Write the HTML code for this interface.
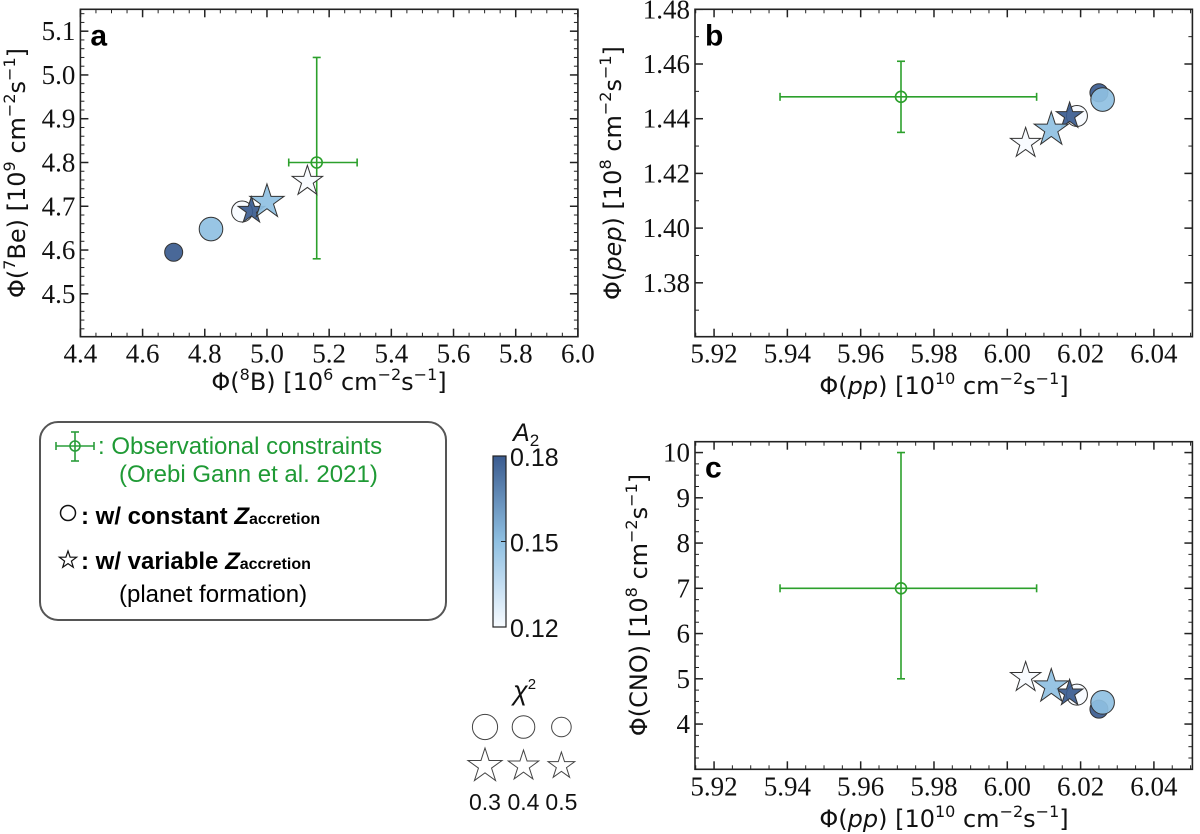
<!DOCTYPE html>
<html><head><meta charset="utf-8"><style>
html,body{margin:0;padding:0;background:#fff;}
svg{display:block;}
.ti{font-family:"DejaVu Sans","Liberation Sans",sans-serif;font-size:24px;fill:#111;}
.lg{font-family:"Liberation Sans","DejaVu Sans",sans-serif;font-size:24px;}
</style></head><body>
<svg id="fig" width="1200" height="834" viewBox="0 0 1200 834" xmlns="http://www.w3.org/2000/svg">
<g id="layer"></g>
</svg>
<script>
// ---- data ----
const circA_x=[4.70,4.82,4.92];
const circA_y=[4.595,4.648,4.688];
const starA_x=[4.95,5.00,5.13];
const starA_y=[4.690,4.710,4.757];
const circB_x=[6.025,6.026,6.019];
const circB_y=[1.4495,1.447,1.441];
const starB_x=[6.017,6.012,6.005];
const starB_y=[1.441,1.436,1.431];
const circC_x=[6.025,6.026,6.019];
const circC_y=[4.33,4.48,4.65];
const starC_x=[6.017,6.012,6.005];
const starC_y=[4.68,4.83,5.03];
const circA2=[0.18,0.15,0.12];
const circChi=[0.5,0.3,0.4];
const starA2=[0.18,0.15,0.12];
const starChi=[0.5,0.3,0.4];
const obsA=[5.16,4.80,5.07,5.29,4.58,5.04];
const obsB=[5.971,1.448,5.938,6.008,1.435,1.461];
const obsC=[5.971,7.0,5.938,6.008,5.0,10.0];
const xticksA=[4.4,4.6,4.8,5.0,5.2,5.4,5.6,5.8,6.0];
const yticksA=[4.5,4.6,4.7,4.8,4.9,5.0,5.1];
const xticksB=[5.92,5.94,5.96,5.98,6.00,6.02,6.04];
const yticksB=[1.38,1.40,1.42,1.44,1.46,1.48];
const yticksC=[4,5,6,7,8,9,10];
const chiLegend=[0.3,0.4,0.5];
const cbarTicks=[0.12,0.15,0.18];

const NS="http://www.w3.org/2000/svg";
const layer=document.getElementById('layer');
const SERIF='Liberation Serif, serif';
function mk(tag,attrs,parent){const e=document.createElementNS(NS,tag);for(const k in attrs)e.setAttribute(k,attrs[k]);(parent||layer).appendChild(e);return e;}
function lerp(a,b,t){return a+(b-a)*t;}
function cmap(v){const t=Math.max(0,Math.min(1,(v-0.12)/0.06));
 const c0=[247,251,255],c1=[143,192,226],c2=[58,91,143];let c;
 if(t<0.5){const u=t/0.5;c=c0.map((x,i)=>lerp(x,c1[i],u));}else{const u=(t-0.5)/0.5;c=c1.map((x,i)=>lerp(x,c2[i],u));}
 return 'rgb('+c.map(Math.round).join(',')+')';}
function circR(chi){return chi<=0.3?11.8:(chi<=0.4?10.5:9.0);}
function starR(chi){return chi<=0.3?18:(chi<=0.4?16:14);}
function starPath(cx,cy,R){let p='';for(let i=0;i<10;i++){const r=i%2?R*0.382:R;const a=-Math.PI/2+i*Math.PI/5;p+=(i?'L':'M')+(cx+r*Math.cos(a)).toFixed(2)+' '+(cy+r*Math.sin(a)).toFixed(2);}return p+'Z';}

function panel(cfg){
 const g=mk('g',{});
 
 
 const X=v=>cfg.L+(v-cfg.x0)/(cfg.x1-cfg.x0)*(cfg.R-cfg.L);
 const Y=v=>cfg.B-(v-cfg.y0)/(cfg.y1-cfg.y0)*(cfg.B-cfg.T);
 for(let v=Math.ceil(cfg.x0/cfg.xm-1e-6)*cfg.xm;v<=cfg.x1+1e-9;v+=cfg.xm){const x=X(v);mk('line',{x1:x,x2:x,y1:cfg.B,y2:cfg.B-4,stroke:'#222','stroke-width':1},g);mk('line',{x1:x,x2:x,y1:cfg.T,y2:cfg.T+4,stroke:'#222','stroke-width':1},g);}
 for(let v=Math.ceil(cfg.y0/cfg.ym-1e-6)*cfg.ym;v<=cfg.y1+1e-9;v+=cfg.ym){const y=Y(v);mk('line',{x1:cfg.L,x2:cfg.L+4,y1:y,y2:y,stroke:'#222','stroke-width':1},g);mk('line',{x1:cfg.R,x2:cfg.R-4,y1:y,y2:y,stroke:'#222','stroke-width':1},g);}
 cfg.xt.forEach(v=>{const x=X(v);mk('line',{x1:x,x2:x,y1:cfg.B,y2:cfg.B-8,stroke:'#222','stroke-width':1.5},g);mk('line',{x1:x,x2:x,y1:cfg.T,y2:cfg.T+8,stroke:'#222','stroke-width':1.5},g);
  const t=mk('text',{x:x,y:cfg.B+26,'text-anchor':'middle','font-family':SERIF,'font-size':'27px',fill:'#111'},g);t.textContent=v.toFixed(cfg.xd);
  
  });
 cfg.yt.forEach(v=>{const y=Y(v);mk('line',{x1:cfg.L,x2:cfg.L+8,y1:y,y2:y,stroke:'#222','stroke-width':1.5},g);mk('line',{x1:cfg.R,x2:cfg.R-8,y1:y,y2:y,stroke:'#222','stroke-width':1.5},g);
  const t=mk('text',{x:cfg.L-5,y:y+9,'text-anchor':'end','font-family':SERIF,'font-size':'27px',fill:'#111'},g);t.textContent=v.toFixed(cfg.yd);
  
  });
 mk('rect',{x:cfg.L,y:cfg.T,width:cfg.R-cfg.L,height:cfg.B-cfg.T,fill:'none',stroke:'#222','stroke-width':1.6},g);
 const lb=mk('text',{x:cfg.L+10,y:cfg.T+36,'font-family':'Liberation Sans, sans-serif','font-weight':'bold','font-size':'30px',fill:'#000'},g);lb.textContent=cfg.label;
 
 
 const o=cfg.obs,gc='#2ca02c';
 const eg=mk('g',{stroke:gc,'stroke-width':1.6,fill:'none'},g);
 
 
 mk('line',{x1:X(o[2]),x2:X(o[3]),y1:Y(o[1]),y2:Y(o[1])},eg);
 mk('line',{x1:X(o[0]),x2:X(o[0]),y1:Y(o[4]),y2:Y(o[5])},eg);
 mk('line',{x1:X(o[2]),x2:X(o[2]),y1:Y(o[1])-4,y2:Y(o[1])+4},eg);
 mk('line',{x1:X(o[3]),x2:X(o[3]),y1:Y(o[1])-4,y2:Y(o[1])+4},eg);
 mk('line',{x1:X(o[0])-4,x2:X(o[0])+4,y1:Y(o[4]),y2:Y(o[4])},eg);
 mk('line',{x1:X(o[0])-4,x2:X(o[0])+4,y1:Y(o[5]),y2:Y(o[5])},eg);
 mk('circle',{cx:X(o[0]),cy:Y(o[1]),r:5.5},eg);
 cfg.cx.forEach((v,i)=>{const c=mk('circle',{cx:X(v),cy:Y(cfg.cy[i]),r:circR(circChi[i]),fill:cmap(circA2[i]),'fill-opacity':0.92,stroke:'#333','stroke-width':1},g);
  
  });
 cfg.sx.forEach((v,i)=>{const s=mk('path',{d:starPath(X(v),Y(cfg.sy[i]),starR(starChi[i])),fill:cmap(starA2[i]),'fill-opacity':0.92,stroke:'#333','stroke-width':1},g);
  
  });
}
panel({name:'panel-a',label:'a',L:80.4,R:577.9,T:9.3,B:336.7,x0:4.4,x1:6.0,y0:4.402,y1:5.15,xm:0.05,ym:0.02,xt:xticksA,yt:yticksA,xd:1,yd:1,obs:obsA,cx:circA_x,cy:circA_y,sx:starA_x,sy:starA_y});
panel({name:'panel-b',label:'b',L:695,R:1192.4,T:9.3,B:336.7,x0:5.9148,x1:6.0505,y0:1.3603,y1:1.48,xm:0.005,ym:0.01,xt:xticksB,yt:yticksB,xd:2,yd:2,obs:obsB,cx:circB_x,cy:circB_y,sx:starB_x,sy:starB_y});
panel({name:'panel-c',label:'c',L:695,R:1192.4,T:441.7,B:769.3,x0:5.9148,x1:6.0505,y0:3.0,y1:10.24,xm:0.005,ym:0.25,xt:xticksB,yt:yticksC,xd:2,yd:0,obs:obsC,cx:circC_x,cy:circC_y,sx:starC_x,sy:starC_y});

const cb=mk('g',{});


const defs=mk('defs',{},cb);
const grad=mk('linearGradient',{id:'cbg',x1:0,y1:1,x2:0,y2:0},defs);
[0,0.25,0.5,0.75,1].forEach(t=>mk('stop',{offset:t,'stop-color':cmap(0.12+0.06*t)},grad));
const cbT=456,cbB=627;
mk('rect',{x:493,y:cbT,width:13,height:cbB-cbT,fill:'url(#cbg)',stroke:'#222','stroke-width':1.2},cb);
cbarTicks.forEach(v=>{const y=cbB-(v-0.12)/0.06*(cbB-cbT);mk('line',{x1:501,x2:506,y1:y,y2:y,stroke:'#222'},cb);
 const t=mk('text',{x:510,y:y+10,'font-family':'Liberation Sans, sans-serif','font-size':'25px',fill:'#111'},cb);t.textContent=v.toFixed(2);
 
 });
const a2=mk('text',{x:513,y:441,'font-family':'Liberation Sans, sans-serif','font-size':'25px','font-style':'italic',fill:'#111'},cb);
a2.innerHTML='A<tspan font-size="17" font-style="normal" dy="5">2</tspan>';

const cl=mk('g',{});


const ch=mk('text',{x:513,y:700,'font-family':'Liberation Sans, sans-serif','font-size':'27px','font-style':'italic',fill:'#111'},cl);
ch.innerHTML='χ<tspan font-size="15" dy="-11" font-style="normal">2</tspan>';
const chiX=[485,523.5,561.4];
chiLegend.forEach((v,i)=>{mk('circle',{cx:chiX[i],cy:727,r:circR(v)+0.8,fill:'none',stroke:'#444','stroke-width':1},cl);
 mk('path',{d:starPath(chiX[i],766,starR(v)),fill:'none',stroke:'#444','stroke-width':1},cl);
 const t=mk('text',{x:chiX[i],y:810,'text-anchor':'middle','font-family':'Liberation Sans, sans-serif','font-size':'23px',fill:'#111'},cl);t.textContent=v.toFixed(1);});
</script>

<svg width="1200" height="834" style="position:absolute;left:0;top:0" xmlns="http://www.w3.org/2000/svg">
<text class="ti" x="329" y="390" text-anchor="middle">Φ(<tspan font-size="16" dy="-10">8</tspan><tspan dy="10">B) [10</tspan><tspan font-size="16" dy="-10">6</tspan><tspan dy="10"> cm</tspan><tspan font-size="16" dy="-10">−2</tspan><tspan dy="10">s</tspan><tspan font-size="16" dy="-10">−1</tspan><tspan dy="10">]</tspan></text>
<text class="ti" transform="translate(25,173) rotate(-90)" text-anchor="middle">Φ(<tspan font-size="16" dy="-10">7</tspan><tspan dy="10">Be) [10</tspan><tspan font-size="16" dy="-10">9</tspan><tspan dy="10"> cm</tspan><tspan font-size="16" dy="-10">−2</tspan><tspan dy="10">s</tspan><tspan font-size="16" dy="-10">−1</tspan><tspan dy="10">]</tspan></text>
<text class="ti" x="944" y="394" text-anchor="middle">Φ(<tspan font-style="italic">pp</tspan>) [10<tspan font-size="16" dy="-10">10</tspan><tspan dy="10"> cm</tspan><tspan font-size="16" dy="-10">−2</tspan><tspan dy="10">s</tspan><tspan font-size="16" dy="-10">−1</tspan><tspan dy="10">]</tspan></text>
<text class="ti" transform="translate(621,173) rotate(-90)" text-anchor="middle">Φ(<tspan font-style="italic">pep</tspan>) [10<tspan font-size="16" dy="-10">8</tspan><tspan dy="10"> cm</tspan><tspan font-size="16" dy="-10">−2</tspan><tspan dy="10">s</tspan><tspan font-size="16" dy="-10">−1</tspan><tspan dy="10">]</tspan></text>
<text class="ti" x="944" y="827" text-anchor="middle">Φ(<tspan font-style="italic">pp</tspan>) [10<tspan font-size="16" dy="-10">10</tspan><tspan dy="10"> cm</tspan><tspan font-size="16" dy="-10">−2</tspan><tspan dy="10">s</tspan><tspan font-size="16" dy="-10">−1</tspan><tspan dy="10">]</tspan></text>
<text class="ti" transform="translate(647,605) rotate(-90)" text-anchor="middle">Φ(CNO) [10<tspan font-size="16" dy="-10">8</tspan><tspan dy="10"> cm</tspan><tspan font-size="16" dy="-10">−2</tspan><tspan dy="10">s</tspan><tspan font-size="16" dy="-10">−1</tspan><tspan dy="10">]</tspan></text>

<g>
<rect x="40" y="422" width="406" height="198" rx="18" ry="18" fill="#fff" stroke="#555" stroke-width="2"/>
<g stroke="#2a9d3a" stroke-width="1.6" fill="none">
<line x1="56" x2="94" y1="446" y2="446"/><line x1="75" x2="75" y1="432" y2="461"/>
<line x1="56" x2="56" y1="442" y2="450"/><line x1="94" x2="94" y1="442" y2="450"/>
<line x1="71" x2="79" y1="432" y2="432"/><line x1="71" x2="79" y1="461" y2="461"/>
<circle cx="75" cy="446" r="5"/></g>
<text class="lg" x="98" y="454" fill="#1f9a35">: Observational constraints</text>
<text class="lg" x="119" y="482" fill="#1f9a35">(Orebi Gann et al. 2021)</text>
<circle cx="68" cy="513" r="7.5" fill="none" stroke="#111" stroke-width="1.5"/>
<text class="lg" x="81" y="524" fill="#000" font-weight="bold">: w/ constant <tspan font-style="italic">Z</tspan><tspan font-size="16">accretion</tspan></text>
<path d="M68.0 551.0L70.1 557.1L76.6 557.2L71.4 561.1L73.3 567.3L68.0 563.6L62.7 567.3L64.6 561.1L59.4 557.2L65.9 557.1Z" fill="none" stroke="#111" stroke-width="1.2"/>
<text class="lg" x="81" y="569" fill="#000" font-weight="bold">: w/ variable <tspan font-style="italic">Z</tspan><tspan font-size="16">accretion</tspan></text>
<text class="lg" x="119" y="602" fill="#000">(planet formation)</text>
</g>
</svg>
</body></html>
